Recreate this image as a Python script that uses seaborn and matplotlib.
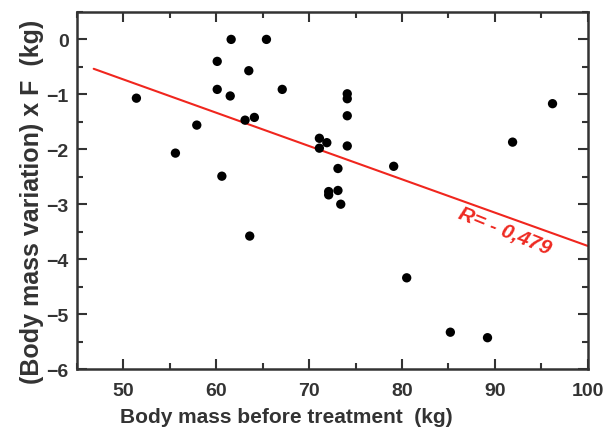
import numpy as np
import pandas as pd
import matplotlib
matplotlib.use("Agg")
import matplotlib.pyplot as plt
from matplotlib.ticker import MultipleLocator
import seaborn as sns

body_mass = [51.4, 55.6, 57.9, 60.1, 60.1, 60.6, 61.6, 61.5, 63.5, 63.1, 64.1, 65.4, 67.1,
             71.1, 71.1, 71.9, 74.1, 74.1, 74.1, 74.1, 73.1, 72.1, 72.1, 73.1, 73.4,
             79.1, 91.9, 96.2, 63.6, 80.5, 85.2, 89.2]
variation = [-1.07, -2.07, -1.56, -0.40, -0.91, -2.49, 0.0, -1.03, -0.57, -1.47, -1.42, 0.0, -0.91,
             -1.80, -1.98, -1.88, -0.99, -1.08, -1.39, -1.94, -2.35, -2.77, -2.83, -2.75, -3.0,
             -2.31, -1.87, -1.17, -3.58, -4.34, -5.33, -5.43]

# fitted line ends
fit_x = [46.8, 100.0]
fit_y = [-0.535, -3.76]
r_label = "R= - 0,479"

df = pd.DataFrame({"mass": body_mass, "var": variation})

sns.set_style("ticks")
plt.rcParams["font.family"] = ["Liberation Sans", "DejaVu Sans"]

fig = plt.figure(figsize=(6.06, 4.31), dpi=100)
ax = fig.add_axes([0.127, 0.1415, 0.843, 0.8285])

sns.lineplot(x=fit_x, y=fit_y, ax=ax, color="#f0261e", linewidth=1.5)
sns.scatterplot(data=df, x="mass", y="var", ax=ax, color="black", s=45,
                edgecolor="none", zorder=3)

ax.text(91.0, -3.47, r_label, color="#ee2a22", fontsize=15, style="italic",
        fontweight="bold", rotation=-22, ha="center", va="center",
        rotation_mode="anchor")

ax.set_xlim(45, 100)
ax.set_ylim(-6, 0.5)
ax.xaxis.set_major_locator(MultipleLocator(10))
ax.xaxis.set_minor_locator(MultipleLocator(5))
ax.yaxis.set_major_locator(MultipleLocator(1))
ax.yaxis.set_minor_locator(MultipleLocator(0.5))
ax.set_yticks([0, -1, -2, -3, -4, -5, -6])
ax.tick_params(which="both", direction="in", top=True, right=True,
               labeltop=False, labelright=False, color="#333333", width=1.5)
ax.tick_params(which="major", length=7, labelsize=14, labelcolor="#333333")
ax.tick_params(axis="x", which="major", pad=9)
ax.tick_params(axis="y", which="major", pad=6)
ax.tick_params(which="minor", length=4)
for lab in ax.get_xticklabels() + ax.get_yticklabels():
    lab.set_fontweight("bold")
for sp in ax.spines.values():
    sp.set_color("#333333")
    sp.set_linewidth(1.8)

ax.set_xlabel("Body mass before treatment  (kg)", fontsize=15, fontweight="bold",
              color="#333333", labelpad=6)
ax.set_ylabel("(Body mass variation) x F  (kg)", fontsize=18, fontweight="bold",
              color="#333333", labelpad=2)
ax.xaxis.label.set_x(0.41)
ax.yaxis.label.set_y(0.47)

fig.savefig("out.png", dpi=100)
